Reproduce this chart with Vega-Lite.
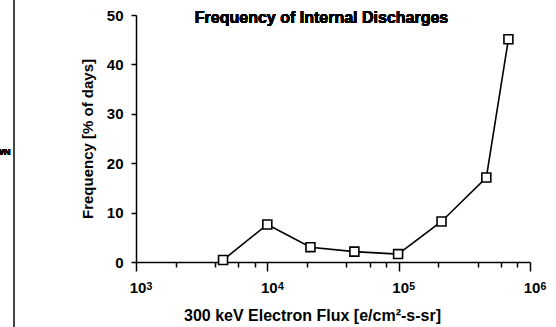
{
  "$schema": "https://vega.github.io/schema/vega-lite/v6.json",
  "width": 394,
  "height": 247,
  "autosize": {"type": "none"},
  "padding": {"left": 136, "top": 15, "right": 26, "bottom": 65},
  "background": "white",
  "config": {
    "view": {"stroke": null},
    "font": "Liberation Sans",
    "axis": {
      "grid": false,
      "domainColor": "black",
      "domainWidth": 1.5,
      "tickColor": "black",
      "tickWidth": 1.5,
      "labelColor": "black",
      "labelFont": "Liberation Sans",
      "labelFontWeight": "bold",
      "labelFontSize": 15,
      "titleColor": "black",
      "titleFont": "Liberation Sans",
      "titleFontWeight": "bold",
      "labelOverlap": false,
      "labelFlush": false,
      "labelBound": false
    }
  },
  "data": {
    "values": [
      {"flux": 4600, "freq": 0.4},
      {"flux": 10000, "freq": 7.6},
      {"flux": 21300, "freq": 3.0},
      {"flux": 46000, "freq": 2.1},
      {"flux": 99000, "freq": 1.6},
      {"flux": 212000, "freq": 8.2},
      {"flux": 465000, "freq": 17.1},
      {"flux": 685000, "freq": 45.1}
    ]
  },
  "resolve": {"axis": {"x": "independent"}},
  "layer": [
    {
      "mark": {"type": "line", "color": "black", "strokeWidth": 1.6},
      "encoding": {
        "x": {
          "field": "flux",
          "type": "quantitative",
          "scale": {"type": "log", "domain": [1000, 1000000], "nice": false},
          "axis": {
            "orient": "bottom",
            "values": [1000, 2000, 4000, 6000, 8000, 10000, 20000, 40000, 60000, 80000, 100000, 200000, 400000, 600000, 800000, 1000000],
            "labelExpr": "(datum.value == 1000 || datum.value == 10000 || datum.value == 100000 || datum.value == 1000000) ? '10' : ''",
            "tickSize": {"condition": {"test": "datum.value == 1000 || datum.value == 10000 || datum.value == 100000 || datum.value == 1000000", "value": 9}, "value": 5},
            "labelPadding": 9,
            "labelOffset": 1.5,
            "title": "300 keV Electron Flux [e/cm²-s-sr]",
            "titleFontSize": 16,
            "titlePadding": 12,
            "titleX": 176
          }
        },
        "y": {
          "field": "freq",
          "type": "quantitative",
          "scale": {"domain": [0, 50], "nice": false, "zero": false},
          "axis": {
            "values": [0, 10, 20, 30, 40, 50],
            "tickSize": 5,
            "labelPadding": 8,
            "title": "Frequency [% of days]",
            "titleFontSize": 15,
            "titlePadding": 11
          }
        }
      }
    },
    {
      "mark": {"type": "point", "shape": "square", "size": 80, "filled": true, "fill": "white", "stroke": "black", "strokeWidth": 1.6, "opacity": 1},
      "encoding": {
        "x": {
          "field": "flux",
          "type": "quantitative",
          "axis": {
            "orient": "bottom",
            "values": [1000, 10000, 100000, 1000000],
            "labelExpr": "format(log(datum.value) / LN10, '.0f')",
            "domain": false,
            "ticks": false,
            "tickSize": 0,
            "labelFontSize": 10.5,
            "labelPadding": 19,
            "labelOffset": 13,
            "title": null
          }
        },
        "y": {"field": "freq", "type": "quantitative"}
      }
    },
    {
      "mark": {"type": "text", "align": "center", "baseline": "alphabetic", "font": "Liberation Sans", "fontWeight": "bold", "fontSize": 16, "color": "black"},
      "encoding": {
        "x": {"datum": 25870, "type": "quantitative", "axis": null},
        "y": {"datum": 48.48, "type": "quantitative"},
        "text": {"value": "Frequency of Internal Discharges"}
      }
    },
    {
      "mark": {"type": "rule", "clip": false, "color": "#444", "strokeWidth": 1},
      "encoding": {
        "x": {"datum": 117.7, "type": "quantitative", "axis": null},
        "y": {"datum": 53.2, "type": "quantitative"},
        "y2": {"datum": -13.2}
      }
    },
    {
      "mark": {"type": "text", "clip": false, "align": "right", "baseline": "alphabetic", "font": "Liberation Sans", "fontWeight": "bold", "fontSize": 9, "color": "black"},
      "encoding": {
        "x": {"datum": 110.7, "type": "quantitative", "axis": null},
        "y": {"datum": 21.56, "type": "quantitative"},
        "text": {"value": "WN"}
      }
    }
  ]
}
